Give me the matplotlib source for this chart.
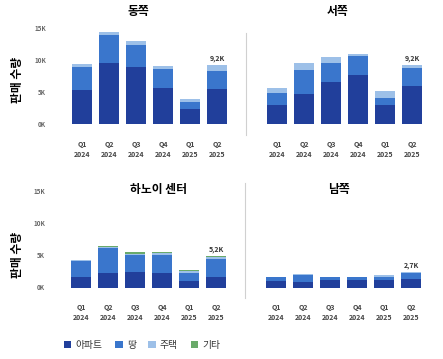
import numpy as np
import matplotlib
matplotlib.use("Agg")
import matplotlib.pyplot as plt
from matplotlib.patches import Patch

plt.rcParams['font.family'] = ['Noto Sans CJK KR', 'DejaVu Sans']

# 분기
quarters = ["Q1\n2024", "Q2\n2024", "Q3\n2024", "Q4\n2024", "Q1\n2025", "Q2\n2025"]
series_names = ["아파트", "땅", "주택", "기타"]

# 판매 수량 (단위: 천)
east_apt = [5.3, 9.6, 8.9, 5.6, 2.4, 5.5]
east_land = [3.6, 4.3, 3.4, 3.0, 1.0, 2.8]
east_house = [0.4, 0.5, 0.7, 0.5, 0.5, 0.9]
east_other = [0, 0, 0, 0, 0, 0]

west_apt = [3.0, 4.7, 6.5, 7.7, 3.0, 5.9]
west_land = [1.8, 3.7, 3.1, 2.9, 1.1, 2.8]
west_house = [0.8, 1.1, 0.8, 0.4, 1.1, 0.5]
west_other = [0, 0, 0, 0, 0, 0]

hanoi_apt = [1.7, 2.3, 2.4, 2.2, 1.0, 1.6]
hanoi_land = [2.5, 3.9, 2.7, 2.9, 1.3, 2.9]
hanoi_house = [0.05, 0.15, 0.2, 0.25, 0.25, 0.2]
hanoi_other = [0.0, 0.15, 0.2, 0.25, 0.25, 0.3]

south_apt = [0.95, 0.8, 1.1, 1.1, 1.1, 1.3]
south_land = [0.65, 1.2, 0.5, 0.5, 0.5, 0.95]
south_house = [0.1, 0.1, 0.1, 0.1, 0.3, 0.15]
south_other = [0, 0, 0, 0, 0, 0]

last_labels = ["9,2K", "9,2K", "5,2K", "2,7K"]
titles = ["동쪽", "서쪽", "하노이 센터", "남쪽"]

colors = ["#213f9b", "#3a76cc", "#9dc0e8", "#6aaa6a"]

W, H = 443, 359
fig = plt.figure(figsize=(W / 100, H / 100), dpi=100)

def px(x0, y_base, x1, y_top):
    return [x0 / W, 1 - y_base / H, (x1 - x0) / W, (y_base - y_top) / H]

panels = [
    (px(68.5, 124, 230.5, 28), [east_apt, east_land, east_house, east_other], True),
    (px(263.5, 124, 425.5, 28), [west_apt, west_land, west_house, west_other], False),
    (px(67.5, 287.5, 229.5, 191.5), [hanoi_apt, hanoi_land, hanoi_house, hanoi_other], True),
    (px(262.5, 287.5, 424.5, 191.5), [south_apt, south_land, south_house, south_other], False),
]

x = np.arange(len(quarters))
for i, (rect, stack, show_y) in enumerate(panels):
    ax = fig.add_axes(rect)
    bottom = np.zeros(len(quarters))
    for vals, c in zip(stack, colors):
        ax.bar(x, vals, width=0.76, bottom=bottom, color=c, edgecolor='none')
        bottom += np.array(vals)
    ax.annotate(last_labels[i], (x[-1], bottom[-1]), xytext=(0, 2),
                textcoords='offset points', ha='center', va='bottom',
                fontsize=5, fontweight='bold', color='#333333')
    ax.set_xlim(-0.5, 5.5)
    ax.set_ylim(0, 15)
    ax.set_xticks(x)
    ax.set_xticklabels(quarters, fontsize=5, fontweight='bold', color='#444444', linespacing=1.55)
    ax.set_yticks([0, 5, 10, 15])
    if show_y:
        ax.set_yticklabels(["0K", "5K", "10K", "15K"], fontsize=4.5, fontweight='bold', color='#666666')
    else:
        ax.set_yticklabels([])
    ax.tick_params(axis='both', length=0)
    ax.tick_params(axis='y', pad=16)
    ax.tick_params(axis='x', pad=12)
    for s in ax.spines.values():
        s.set_visible(False)

# 제목
fig.text(138 / W, 1 - 12 / H, titles[0], ha='center', va='center', fontsize=8.5, fontweight='bold')
fig.text(338 / W, 1 - 12 / H, titles[1], ha='center', va='center', fontsize=8.5, fontweight='bold')
fig.text(158 / W, 1 - 190 / H, titles[2], ha='center', va='center', fontsize=8.5, fontweight='bold')
fig.text(339 / W, 1 - 190 / H, titles[3], ha='center', va='center', fontsize=8.5, fontweight='bold')

# y축 제목
fig.text(18 / W, 1 - 80 / H, "판매 수량", rotation=90, ha='center', va='center', fontsize=8.5, fontweight='bold')
fig.text(18 / W, 1 - 255 / H, "판매 수량", rotation=90, ha='center', va='center', fontsize=8.5, fontweight='bold')

# 구분선
fig.add_artist(plt.Line2D([246 / W, 246 / W], [1 - 33 / H, 1 - 135 / H], color='#d0d0d0', lw=0.8))
fig.add_artist(plt.Line2D([245 / W, 245 / W], [1 - 183 / H, 1 - 298 / H], color='#d0d0d0', lw=0.8))

handles = [Patch(facecolor=c, edgecolor='none') for c in colors]
fig.legend(handles, series_names, loc='center', bbox_to_anchor=(142 / W, 1 - 345 / H),
           ncol=4, frameon=False, fontsize=7, handlelength=0.8, handleheight=0.8,
           handletextpad=0.4, columnspacing=1.3, labelcolor='#333333')

fig.savefig("out.png", dpi=100)
